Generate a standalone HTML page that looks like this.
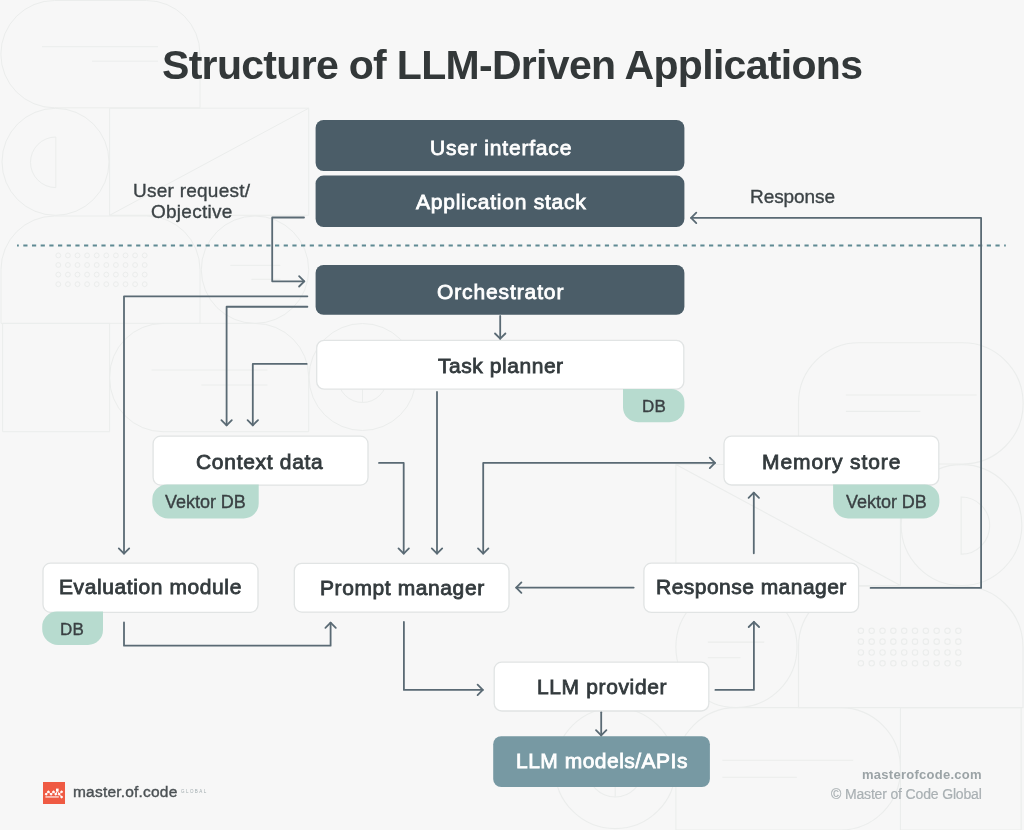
<!DOCTYPE html>
<html><head><meta charset="utf-8">
<style>
html,body{margin:0;padding:0;}
body{width:1024px;height:830px;position:relative;overflow:hidden;background:#f7f7f7;font-family:"Liberation Sans",sans-serif;}
.abs{position:absolute;}
svg.layer{position:absolute;left:0;top:0;}
.t{position:absolute;white-space:nowrap;line-height:60px;will-change:transform;}
.box{position:absolute;box-sizing:border-box;}
.dark{background:#4b5d68;border-radius:8px;}
.light{background:#fff;border:1px solid #e4e6e6;border-radius:7px;}
.models{background:#7799a3;border-radius:8px;}
.badge{position:absolute;background:#b7dbcf;}
.bl{border-radius:13px 0 13px 13px;}
.br{border-radius:0 13px 13px 13px;}
</style></head><body>
<svg class="layer" width="1024" height="830" viewBox="0 0 1024 830" fill="none" stroke="#ebedec" stroke-width="1">
<defs><g id="pat">
<path d="M54.5 0.5H146.5A53.5 53.5 0 0 1 200 54V107.8H54.5A53.65 53.65 0 0 1 54.5 0.5Z"/>
<path d="M42 46.7H158M92 61.2H158"/>
<circle cx="55.5" cy="161.8" r="53.5"/>
<path d="M55.8 137V187.6A25.3 25.3 0 0 1 55.8 137Z"/>
<path d="M109.6 108.2H308.7V215.3H109.6ZM109.6 215.3L308.7 108.2"/>
<path d="M1 323.4V269.5A53.5 53.5 0 0 1 54.5 216H146.5A53.5 53.5 0 0 1 200 269.5V323.4Z"/>
<g><circle cx="58.3" cy="255.4" r="2.4"/><circle cx="58.3" cy="265.0" r="2.4"/><circle cx="58.3" cy="274.6" r="2.4"/><circle cx="58.3" cy="284.2" r="2.4"/><circle cx="67.9" cy="255.4" r="2.4"/><circle cx="67.9" cy="265.0" r="2.4"/><circle cx="67.9" cy="274.6" r="2.4"/><circle cx="67.9" cy="284.2" r="2.4"/><circle cx="77.5" cy="255.4" r="2.4"/><circle cx="77.5" cy="265.0" r="2.4"/><circle cx="77.5" cy="274.6" r="2.4"/><circle cx="77.5" cy="284.2" r="2.4"/><circle cx="87.1" cy="255.4" r="2.4"/><circle cx="87.1" cy="265.0" r="2.4"/><circle cx="87.1" cy="274.6" r="2.4"/><circle cx="87.1" cy="284.2" r="2.4"/><circle cx="96.7" cy="255.4" r="2.4"/><circle cx="96.7" cy="265.0" r="2.4"/><circle cx="96.7" cy="274.6" r="2.4"/><circle cx="96.7" cy="284.2" r="2.4"/><circle cx="106.3" cy="255.4" r="2.4"/><circle cx="106.3" cy="265.0" r="2.4"/><circle cx="106.3" cy="274.6" r="2.4"/><circle cx="106.3" cy="284.2" r="2.4"/><circle cx="115.9" cy="255.4" r="2.4"/><circle cx="115.9" cy="265.0" r="2.4"/><circle cx="115.9" cy="274.6" r="2.4"/><circle cx="115.9" cy="284.2" r="2.4"/><circle cx="125.5" cy="255.4" r="2.4"/><circle cx="125.5" cy="265.0" r="2.4"/><circle cx="125.5" cy="274.6" r="2.4"/><circle cx="125.5" cy="284.2" r="2.4"/><circle cx="135.1" cy="255.4" r="2.4"/><circle cx="135.1" cy="265.0" r="2.4"/><circle cx="135.1" cy="274.6" r="2.4"/><circle cx="135.1" cy="284.2" r="2.4"/><circle cx="144.7" cy="255.4" r="2.4"/><circle cx="144.7" cy="265.0" r="2.4"/><circle cx="144.7" cy="274.6" r="2.4"/><circle cx="144.7" cy="284.2" r="2.4"/></g>
<circle cx="255" cy="269.7" r="53.7"/>
<path d="M230.4 265.4H280.4M251.4 279.3H280.4"/>
<path d="M2.6 323.4H109.6V431.7H2.6Z"/>
<path d="M163.1 323.4H255.2A53.5 53.5 0 0 1 308.7 376.9V431.7H163.1A53.5 53.5 0 0 1 109.6 378.2V376.9A53.5 53.5 0 0 1 163.1 323.4Z"/>
<path d="M151.5 370H267.5M201.4 385H267.5"/>
<circle cx="362.5" cy="377" r="53.5"/>
<path d="M338 378H387A24.5 24.5 0 0 1 338 378ZM362.5 378V402.5"/>
</g></defs>
<use href="#pat"/>
<use href="#pat" transform="translate(1024.1 342.2) scale(-1.128 1.13)"/>
</svg>

<svg class="layer" width="1024" height="830" viewBox="0 0 1024 830">

<g fill="#4b5d68">
<rect x="315.60" y="120.00" width="368.80" height="51.00" rx="8"/>
<rect x="315.60" y="175.60" width="368.80" height="51.40" rx="8"/>
<rect x="315.60" y="265.00" width="368.80" height="49.80" rx="8"/>
<rect x="493.2" y="736.2" width="216.7" height="50.8" rx="8" fill="#7799a3"/>
</g>
<g fill="#ffffff" stroke="#e1e4e4" stroke-width="1.3">
<rect x="316.70" y="340.30" width="367.10" height="48.90" rx="7.5"/>
<rect x="153.10" y="436.20" width="214.90" height="48.90" rx="7.5"/>
<rect x="724.00" y="436.10" width="214.80" height="48.90" rx="7.5"/>
<rect x="43.00" y="563.20" width="215.00" height="49.10" rx="7.5"/>
<rect x="294.30" y="563.30" width="214.70" height="48.80" rx="7.5"/>
<rect x="643.90" y="563.20" width="214.70" height="49.20" rx="7.5"/>
<rect x="494.20" y="662.20" width="214.60" height="48.80" rx="7.5"/>
</g>
<g fill="#b7dbcf">
<path d="M623.00 388.90 H671.40 A13 13 0 0 1 684.40 401.90 V407.20 A15 15 0 0 1 669.40 422.20 H638.00 A15 15 0 0 1 623.00 407.20 V388.90 A0 0 0 0 1 623.00 388.90 Z"/>
<path d="M167.30 484.40 H258.70 A0 0 0 0 1 258.70 484.40 V503.50 A15 15 0 0 1 243.70 518.50 H168.30 A16 16 0 0 1 152.30 502.50 V499.40 A15 15 0 0 1 167.30 484.40 Z"/>
<path d="M833.10 484.40 H924.40 A15 15 0 0 1 939.40 499.40 V502.50 A16 16 0 0 1 923.40 518.50 H848.10 A15 15 0 0 1 833.10 503.50 V484.40 A0 0 0 0 1 833.10 484.40 Z"/>
<path d="M57.20 611.60 H103.00 A0 0 0 0 1 103.00 611.60 V629.90 A15 15 0 0 1 88.00 644.90 H58.20 A16 16 0 0 1 42.20 628.90 V626.60 A15 15 0 0 1 57.20 611.60 Z"/>
</g></svg>

<svg class="layer" width="1024" height="830" viewBox="0 0 1024 830" fill="none" stroke="#5a6a74" stroke-width="1.8" stroke-linecap="round" stroke-linejoin="round">
<line x1="17" y1="245.6" x2="1005.8" y2="245.6" stroke="#5f8a93" stroke-width="2" stroke-dasharray="4.2 4.48" stroke-dashoffset="2.38" stroke-linecap="butt"/>
<path d="M304.00 217.50L272.20 217.50L272.20 281.30L304.30 281.30"/><path d="M299.10 286.50L304.30 281.30L299.10 276.10"/>
<path d="M870.60 587.90L981.10 587.90L981.10 217.90L691.10 217.90"/><path d="M696.30 212.70L691.10 217.90L696.30 223.10"/>
<path d="M307.40 296.30L124.00 296.30L124.00 553.60"/><path d="M118.80 548.40L124.00 553.60L129.20 548.40"/>
<path d="M307.40 306.75L226.60 306.75L226.60 425.30"/><path d="M221.40 420.10L226.60 425.30L231.80 420.10"/>
<path d="M500.20 316.00L500.20 338.70"/><path d="M495.00 333.50L500.20 338.70L505.40 333.50"/>
<path d="M306.70 363.90L252.80 363.90L252.80 425.30"/><path d="M247.60 420.10L252.80 425.30L258.00 420.10"/>
<path d="M437.00 392.00L437.00 553.60"/><path d="M431.80 548.40L437.00 553.60L442.20 548.40"/>
<path d="M379.00 462.90L403.70 462.90L403.70 553.60"/><path d="M398.50 548.40L403.70 553.60L408.90 548.40"/>
<path d="M483.20 553.60L483.20 462.90L715.00 462.90"/><path d="M709.80 468.10L715.00 462.90L709.80 457.70"/><path d="M478.00 548.40L483.20 553.60L488.40 548.40"/>
<path d="M633.70 587.60L516.20 587.60"/><path d="M521.40 582.40L516.20 587.60L521.40 592.80"/>
<path d="M753.80 553.30L753.80 492.60"/><path d="M759.00 497.80L753.80 492.60L748.60 497.80"/>
<path d="M124.00 622.50L124.00 645.70L330.60 645.70L330.60 622.60"/><path d="M335.80 627.80L330.60 622.60L325.40 627.80"/>
<path d="M403.90 621.90L403.90 689.90L482.80 689.90"/><path d="M477.60 695.10L482.80 689.90L477.60 684.70"/>
<path d="M715.40 689.90L753.90 689.90L753.90 621.80"/><path d="M759.10 627.00L753.90 621.80L748.70 627.00"/>
<path d="M601.20 712.30L601.20 735.40"/><path d="M596.00 730.20L601.20 735.40L606.40 730.20"/>
</svg>

<div class="t" style="left:161.60px;top:34.50px;font-size:41px;font-weight:bold;letter-spacing:-0.689px;color:#333839">Structure of LLM-Driven Applications</div>
<div class="t" style="left:429.55px;top:117.51px;font-size:21px;font-weight:normal;letter-spacing:0.819px;color:#ffffff;-webkit-text-stroke:0.8px #ffffff">User interface</div>
<div class="t" style="left:415.53px;top:172.21px;font-size:21px;font-weight:normal;letter-spacing:0.763px;color:#ffffff;-webkit-text-stroke:0.8px #ffffff">Application stack</div>
<div class="t" style="left:436.84px;top:261.86px;font-size:21px;font-weight:normal;letter-spacing:0.883px;color:#ffffff;-webkit-text-stroke:0.8px #ffffff">Orchestrator</div>
<div class="t" style="left:437.93px;top:335.61px;font-size:21px;font-weight:normal;letter-spacing:0.549px;color:#333a3d;-webkit-text-stroke:0.8px #333a3d">Task planner</div>
<div class="t" style="left:195.68px;top:431.71px;font-size:21px;font-weight:normal;letter-spacing:0.701px;color:#333a3d;-webkit-text-stroke:0.8px #333a3d">Context data</div>
<div class="t" style="left:762.06px;top:431.71px;font-size:21px;font-weight:normal;letter-spacing:0.916px;color:#333a3d;-webkit-text-stroke:0.8px #333a3d">Memory store</div>
<div class="t" style="left:59.36px;top:557.16px;font-size:21px;font-weight:normal;letter-spacing:0.596px;color:#333a3d;-webkit-text-stroke:0.8px #333a3d">Evaluation module</div>
<div class="t" style="left:319.66px;top:557.66px;font-size:21px;font-weight:normal;letter-spacing:0.597px;color:#333a3d;-webkit-text-stroke:0.8px #333a3d">Prompt manager</div>
<div class="t" style="left:655.56px;top:556.81px;font-size:21px;font-weight:normal;letter-spacing:0.471px;color:#333a3d;-webkit-text-stroke:0.8px #333a3d">Response manager</div>
<div class="t" style="left:536.86px;top:656.81px;font-size:21px;font-weight:normal;letter-spacing:0.632px;color:#333a3d;-webkit-text-stroke:0.8px #333a3d">LLM provider</div>
<div class="t" style="left:515.76px;top:730.91px;font-size:21px;font-weight:normal;letter-spacing:0.490px;color:#ffffff;-webkit-text-stroke:0.8px #ffffff">LLM models/APIs</div>
<div class="t" style="left:132.63px;top:160.95px;font-size:19px;font-weight:normal;letter-spacing:0.252px;color:#3c4346;-webkit-text-stroke:0.35px #3c4346">User request/</div>
<div class="t" style="left:150.99px;top:181.65px;font-size:19px;font-weight:normal;letter-spacing:0.249px;color:#3c4346;-webkit-text-stroke:0.35px #3c4346">Objective</div>
<div class="t" style="left:749.66px;top:166.65px;font-size:19px;font-weight:normal;letter-spacing:-0.075px;color:#3c4346;-webkit-text-stroke:0.35px #3c4346">Response</div>
<div class="t" style="left:165.33px;top:472.35px;font-size:18px;font-weight:normal;letter-spacing:-0.027px;color:#3a4043;-webkit-text-stroke:0.35px #3a4043">Vektor DB</div>
<div class="t" style="left:846.03px;top:472.15px;font-size:18px;font-weight:normal;letter-spacing:-0.027px;color:#3a4043;-webkit-text-stroke:0.35px #3a4043">Vektor DB</div>
<div class="t" style="left:641.58px;top:377.25px;font-size:17px;font-weight:normal;letter-spacing:0.275px;color:#3a4043;-webkit-text-stroke:0.35px #3a4043">DB</div>
<div class="t" style="left:60.48px;top:600.25px;font-size:17px;font-weight:normal;letter-spacing:0.275px;color:#3a4043;-webkit-text-stroke:0.35px #3a4043">DB</div>
<div class="t" style="left:862.11px;top:745.30px;font-size:13px;font-weight:bold;letter-spacing:0.264px;color:#9ba3a6">masterofcode.com</div>
<div class="t" style="left:830.67px;top:764.04px;font-size:14px;font-weight:normal;letter-spacing:-0.155px;color:#a9b0b3;-webkit-text-stroke:0.2px #a9b0b3">© Master of Code Global</div>

<div class="abs" style="left:43px;top:782px;width:22px;height:22px;background:#ef5a43;"></div>
<svg class="layer" width="1024" height="830" viewBox="0 0 1024 830" fill="#fff" stroke="#fff" stroke-width="0.9">
<path d="M46.2 794.2L48.4 791.8L51.1 794.2L53.5 791.8L55.8 794.2L57.3 790.5L59.1 794.2L61.6 791.8M59.1 794.2L61.6 797" fill="none"/>
<circle cx="46.2" cy="794.2" r="0.9"/><circle cx="48.4" cy="791.8" r="0.9"/><circle cx="51.1" cy="794.2" r="0.9"/><circle cx="53.5" cy="791.8" r="0.9"/><circle cx="55.8" cy="794.2" r="0.9"/><circle cx="59.1" cy="794.2" r="0.9"/><circle cx="61.6" cy="791.8" r="0.9"/><circle cx="61.6" cy="797" r="0.9"/>
<rect x="56" y="788.6" width="2.6" height="2.6" stroke="none"/>
<rect x="45.4" y="796.3" width="13.4" height="1.3" stroke="none" opacity="0.85"/>
</svg>
<div class="t" style="left:72.6px;top:777px;font-size:15.5px;letter-spacing:0.2px;color:#4b5154;-webkit-text-stroke:0.4px #4b5154;line-height:30px;">master.of.code</div>
<div class="t" style="left:181.3px;top:777px;font-size:4.5px;letter-spacing:1.45px;color:#a3adb0;line-height:30px;">GLOBAL</div>
</body></html>
